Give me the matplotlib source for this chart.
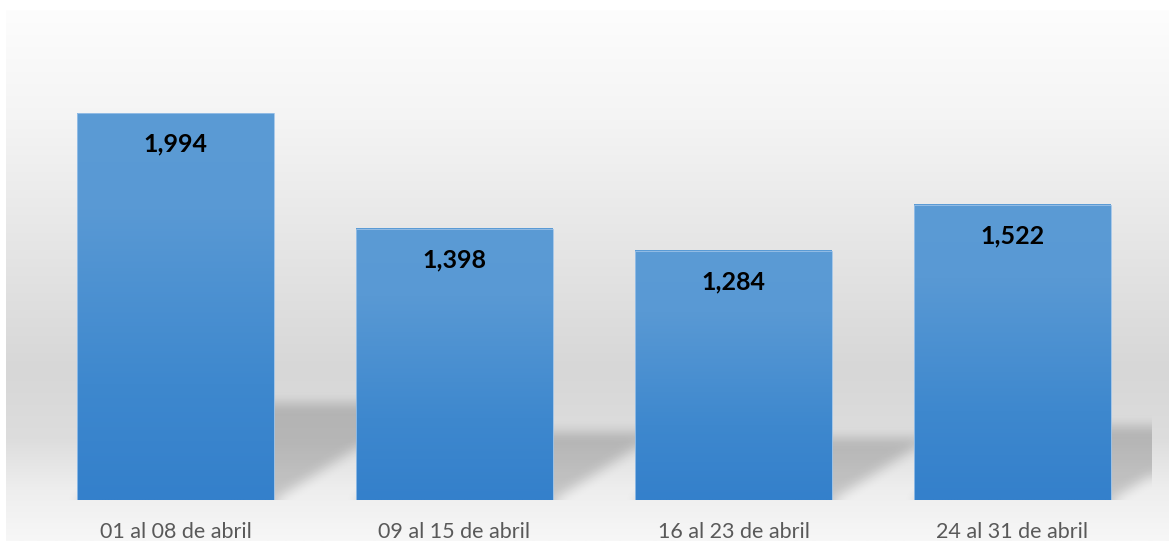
import numpy as np
import matplotlib
matplotlib.use('Agg')
import matplotlib.pyplot as plt
from matplotlib.patches import Rectangle

# data
categories = ['01 al 08 de abril', '09 al 15 de abril', '16 al 23 de abril', '24 al 31 de abril']
values = [1994, 1398, 1284, 1522]
value_labels = ['1,994', '1,398', '1,284', '1,522']

W, H = 1169, 541
fig = plt.figure(figsize=(W / 100, H / 100), dpi=100, facecolor='white')

# chart area background: soft vertical grey gradient
ax_bg = fig.add_axes([6 / W, 0, (W - 6) / W, 531 / H])
ax_bg.set_axis_off()
rows = np.linspace(0, 531, 400)            # distance from top of the area
stop_pos = [0, 110, 240, 360, 430, 480, 531]
stop_val = [253, 244, 229, 215, 221, 238, 247]
grey = np.interp(rows, stop_pos, stop_val) / 255.0
bg = np.repeat(grey[:, None], 2, axis=1)
bg = np.dstack([bg, bg, bg])
ax_bg.imshow(bg, aspect='auto', extent=(0, 1, 0, 1), origin='upper', interpolation='bilinear')

# plot area
ymax = 2500
ax_w, ax_h = 1116, 485
ax = fig.add_axes([36 / W, 41 / H, ax_w / W, ax_h / H])
ax.patch.set_alpha(0)
for s in ax.spines.values():
    s.set_visible(False)

bar_w = 0.706
x = np.arange(len(categories))

# cast shadows behind bars (pixel grid of the plot area)
px_per_x = ax_w / 4.0
px_per_y = ax_h / ymax
cols = np.arange(ax_w) + 0.5
rws = np.arange(ax_h) + 0.5
PX, PY = np.meshgrid(cols, rws)
mask = np.zeros((ax_h, ax_w))
slant = 1.6
for xi, v in zip(x, values):
    x0 = (xi - bar_w / 2 + 0.5) * px_per_x
    x1 = (xi + bar_w / 2 + 0.5) * px_per_x
    L = 0.25 * v * px_per_y
    inside = (PY <= L) & (PX >= x0 + slant * PY) & (PX <= x1 + slant * PY)
    mask = np.maximum(mask, inside.astype(float))


def box_blur(a, r, axis):
    pad = [(0, 0), (0, 0)]
    pad[axis] = (r + 1, r)
    c = np.cumsum(np.pad(a, pad, mode='edge'), axis=axis)
    n = a.shape[axis]
    hi = np.take(c, np.arange(2 * r + 1, 2 * r + 1 + n), axis=axis)
    lo = np.take(c, np.arange(0, n), axis=axis)
    return (hi - lo) / (2 * r + 1)


for _ in range(3):
    mask = box_blur(mask, 5, 0)
    mask = box_blur(mask, 5, 1)

shadow = np.zeros((ax_h, ax_w, 4))
shadow[..., 3] = 0.18 * mask
ax.imshow(shadow, extent=(-0.5, 3.5, 0, ymax), origin='lower', aspect='auto',
          zorder=1, interpolation='nearest')

# bars with vertical gradient fill
t_stops = [0.0, 0.3, 0.75, 1.0]
r_stops = [52, 62, 89, 91]
g_stops = [128, 136, 153, 155]
b_stops = [203, 206, 212, 213]
for xi, v, lab in zip(x, values, value_labels):
    t = np.linspace(0, 1, 200)
    grad = np.dstack([np.interp(t, t_stops, r_stops),
                      np.interp(t, t_stops, g_stops),
                      np.interp(t, t_stops, b_stops)]) / 255.0
    grad = np.transpose(grad, (1, 0, 2))
    ax.imshow(grad, extent=(xi - bar_w / 2, xi + bar_w / 2, 0, v), origin='lower',
              aspect='auto', zorder=2, interpolation='bilinear')
    ax.add_patch(Rectangle((xi - bar_w / 2, 0), bar_w, v, fill=False,
                           edgecolor='#9cc2e8', lw=0.6, zorder=3))
    ax.annotate(lab, (xi, v), xytext=(0, -22.5),
                textcoords='offset points', ha='center', va='center',
                fontsize=18, fontweight='bold', family='Lato', color='black', zorder=4)

ax.set_xlim(-0.5, 3.5)
ax.set_ylim(0, ymax)
ax.set_yticks([])
ax.set_xticks(x)
ax.set_xticklabels(categories, family='Lato', fontsize=15.5, color='#595959')
ax.tick_params(axis='x', length=0, pad=15.5)

fig.savefig('out.png', dpi=100, facecolor='white')
